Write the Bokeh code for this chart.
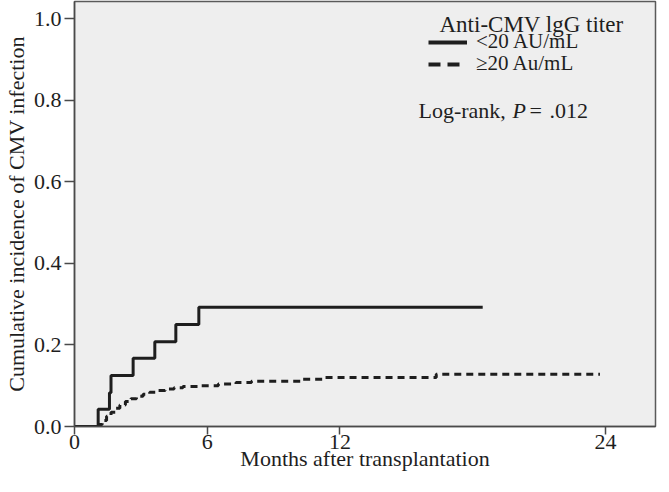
from bokeh.plotting import figure
from bokeh.models import Range1d, FixedTicker, Legend, LegendItem, Label, NumeralTickFormatter
from bokeh.embed import file_html
from bokeh.resources import INLINE

# Data
low_t = [0, 1.07, 1.58, 1.65, 2.65, 3.63, 4.58, 5.62, 18.45]
low_v = [0, 0.042, 0.083, 0.125, 0.167, 0.208, 0.25, 0.292, 0.292]

high_t = [0, 1.1, 1.25, 1.45, 1.65, 1.85, 2.05, 2.3, 2.55, 2.8, 3.1, 3.4, 3.75,
          4.1, 4.5, 4.9, 5.6, 6.5, 7.3, 8.0, 10.3, 11.2, 16.35, 23.75]
high_v = [0, 0.005, 0.015, 0.025, 0.035, 0.045, 0.053, 0.061, 0.068, 0.074, 0.079,
          0.084, 0.088, 0.092, 0.095, 0.098, 0.100, 0.104, 0.108, 0.111, 0.116,
          0.120, 0.128, 0.128]

x_ticks = [0, 6, 12, 24]
y_ticks = [0.0, 0.2, 0.4, 0.6, 0.8, 1.0]
x_title = "Months after transplantation"
y_title = "Cumulative incidence of CMV infection"
legend_title = "Anti-CMV lgG titer"
series_labels = ["<20 AU/mL", "\u226520 Au/mL"]

FONT = "Liberation Serif"
INK = "#1e1e1e"

p = figure(frame_width=581, frame_height=425, output_backend="svg", toolbar_location=None,
           x_range=Range1d(0, 26.26), y_range=Range1d(0, 1.0417),
           min_border_left=70, min_border_right=2, min_border_top=1, min_border_bottom=50)

p.background_fill_color = "#eeeeee"
p.border_fill_color = "white"
p.outline_line_color = "#5a5a5a"
p.outline_line_width = 1.5
p.grid.visible = False

p.step(low_t, low_v, mode="after", line_color=INK, line_width=3)
p.step(high_t, high_v, mode="after", line_color=INK, line_width=3, line_dash="7 5")

# legend keys: single-point lines (draw nothing in the plot, only in the legend)
k1 = p.line(low_t[:1], low_v[:1], line_color=INK, line_width=4)
k2 = p.line(high_t[:1], high_v[:1], line_color=INK, line_width=4,
            line_dash="12 7 12 100")

for ax in (p.xaxis[0], p.yaxis[0]):
    ax.axis_line_color = "#4a4a4a"
    ax.axis_line_width = 1.5
    ax.major_tick_line_color = "#4a4a4a"
    ax.major_tick_line_width = 1.5
    ax.major_tick_in = 0
    ax.minor_tick_line_color = None
    ax.major_label_text_font = FONT
    ax.major_label_text_font_size = "22px"
    ax.major_label_text_color = INK
    ax.axis_label_text_font = FONT
    ax.axis_label_text_font_size = "22px"
    ax.axis_label_text_font_style = "normal"
    ax.axis_label_text_color = INK

p.xaxis.ticker = FixedTicker(ticks=x_ticks)
p.yaxis.ticker = FixedTicker(ticks=y_ticks)
p.yaxis.formatter = NumeralTickFormatter(format="0.0")
p.xaxis.axis_label = x_title
p.yaxis.axis_label = y_title
p.xaxis.major_tick_out = 8
p.yaxis.major_tick_out = 10
p.xaxis.major_label_standoff = 0
p.xaxis.axis_label_standoff = -6
p.yaxis.major_label_standoff = 3
p.yaxis.axis_label_standoff = 2

common = dict(border_line_color=None, background_fill_alpha=0, padding=0, spacing=0,
              margin=0, glyph_width=39, glyph_height=18, label_height=18,
              label_standoff=9, label_text_font=FONT, label_text_font_size="21px",
              label_text_color=INK)
leg1 = Legend(items=[LegendItem(label=series_labels[0], renderers=[k1])],
              location=(354, 372), **common)
leg2 = Legend(items=[LegendItem(label=series_labels[1], renderers=[k2])],
              location=(354, 350), **common)
p.add_layout(leg1, "center")
p.add_layout(leg2, "center")

title = Label(x=457, y=402, x_units="screen", y_units="screen",
              text=legend_title, text_font=FONT, text_font_size="23px",
              text_color=INK, text_align="center", text_baseline="alphabetic")
p.add_layout(title)

lr_parts = [("Log-rank,", 344, "normal"), ("P", 438, "italic"),
            ("=", 455, "normal"), (".012", 475, "normal")]
for txt, xx, style in lr_parts:
    p.add_layout(Label(x=xx, y=316, x_units="screen", y_units="screen", text=txt,
                       text_font=FONT, text_font_size="22px", text_font_style=style,
                       text_color=INK, text_baseline="alphabetic"))

open("out.html", "w").write(file_html(p, INLINE))
